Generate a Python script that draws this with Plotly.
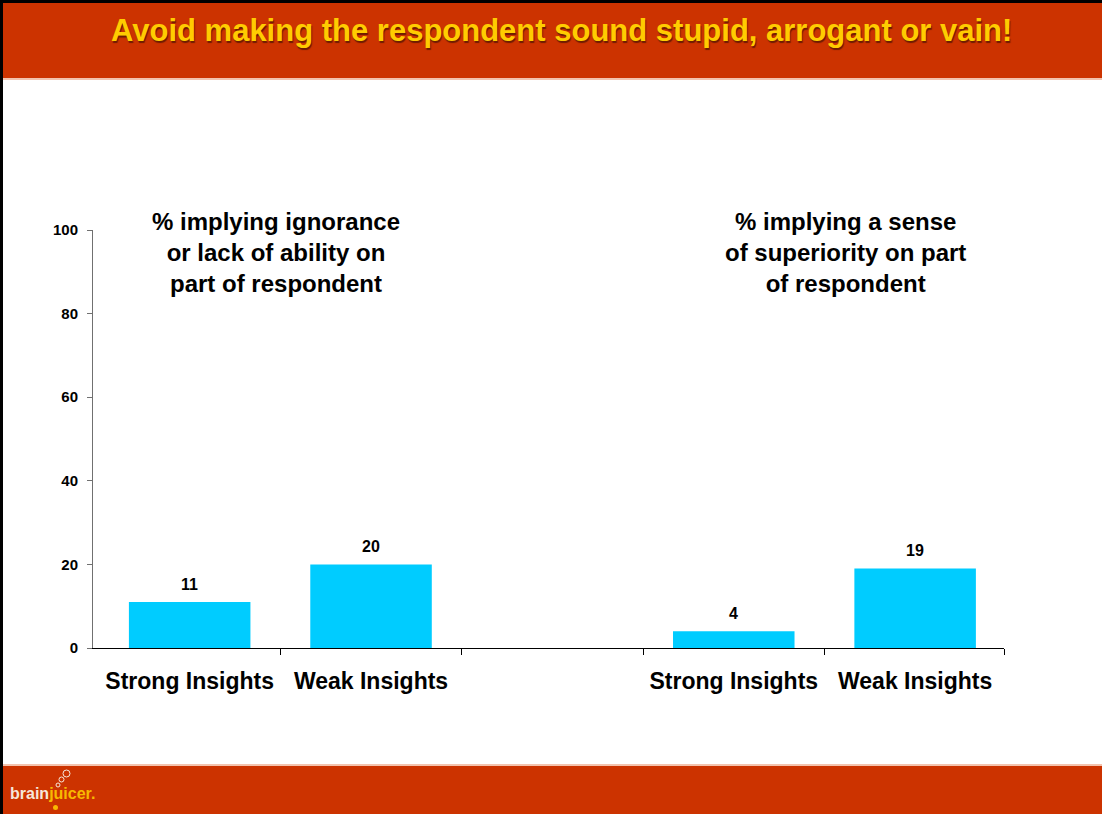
import plotly.graph_objects as go

# ---------------- data ----------------
title_text = "Avoid making the respondent sound stupid, arrogant or vain!"
bar_labels = ["Strong Insights", "Weak Insights"]
panel_titles = [
    "% implying ignorance<br>or lack of ability on<br>part of respondent",
    "% implying a sense<br>of superiority on part<br>of respondent",
]
values_ignorance = [11, 20]
values_superiority = [4, 19]
x_ignorance = [0, 1]
x_superiority = [3, 4]
y_ticks = [0, 20, 40, 60, 80, 100]

# ---------------- layout helpers ----------------
W, H = 1102, 814
def px(x):
    return x / W
def py(y):
    return 1 - y / H

BAR = "#00CCFF"
RED = "#CC3300"
FONT = "Liberation Sans, Arial, sans-serif"

x_vals = x_ignorance + x_superiority
y_vals = values_ignorance + values_superiority
x_text = bar_labels + bar_labels

fig = go.Figure()
fig.add_trace(go.Bar(
    x=x_vals, y=y_vals, width=0.67,
    marker=dict(color=BAR, line=dict(width=0)),
    hoverinfo="skip", showlegend=False,
))

x_range = [-0.533, 4.49]

# value labels
for xv, yv in zip(x_vals, y_vals):
    fig.add_annotation(x=xv, y=yv, xref="x", yref="y", text=f"<b>{yv}</b>",
                       showarrow=False, yanchor="middle", yshift=18,
                       font=dict(family=FONT, size=16, color="black"))

# panel titles
for xc, t in zip([px(276), px(845)], panel_titles):
    fig.add_annotation(x=xc, y=py(252), xref="paper", yref="paper", text=f"<b>{t}</b>",
                       showarrow=False, xanchor="center", yanchor="middle", align="center",
                       font=dict(family=FONT, size=24, color="black"))

# title
fig.add_annotation(x=px(561), y=py(30), xref="paper", yref="paper", text=f"<b>{title_text}</b>",
                   showarrow=False, xanchor="center", yanchor="middle",
                   font=dict(family=FONT, size=31, color="#FFCC00", shadow="1px 2px 1px #6e1c00"))

# logo
fig.add_annotation(x=px(8), y=py(793), xref="paper", yref="paper",
                   text="<b>brain<span style='color:#F8B800'>juicer.</span></b>",
                   showarrow=False, xanchor="left", yanchor="middle",
                   font=dict(family=FONT, size=16, color="#F6E7DA"))

shapes = [
    # top red band
    dict(type="rect", xref="paper", yref="paper", x0=0, x1=1, y0=py(78), y1=1,
         fillcolor=RED, line=dict(width=0), layer="below"),
    dict(type="line", xref="paper", yref="paper", x0=0, x1=1, y0=py(79), y1=py(79),
         line=dict(color="#F3C3AE", width=2), layer="below"),
    # bottom red band
    dict(type="rect", xref="paper", yref="paper", x0=0, x1=1, y0=0, y1=py(766),
         fillcolor=RED, line=dict(width=0), layer="below"),
    dict(type="line", xref="paper", yref="paper", x0=0, x1=1, y0=py(765), y1=py(765),
         line=dict(color="#F3C3AE", width=2), layer="below"),
    # black frame (left and top)
    dict(type="rect", xref="paper", yref="paper", x0=0, x1=px(3), y0=0, y1=1,
         fillcolor="black", line=dict(width=0)),
    dict(type="rect", xref="paper", yref="paper", x0=0, x1=1, y0=py(3), y1=1,
         fillcolor="black", line=dict(width=0)),
    # logo bubbles and drop
    dict(type="circle", xref="paper", yref="paper", x0=px(56), x1=px(60), y0=py(787), y1=py(783),
         line=dict(color="#F6E7DA", width=1)),
    dict(type="circle", xref="paper", yref="paper", x0=px(59), x1=px(64), y0=py(782), y1=py(777),
         line=dict(color="#F6E7DA", width=1)),
    dict(type="circle", xref="paper", yref="paper", x0=px(63), x1=px(70), y0=py(777), y1=py(770),
         line=dict(color="#F6E7DA", width=1)),
    dict(type="circle", xref="paper", yref="paper", x0=px(53), x1=px(58), y0=py(810), y1=py(805),
         fillcolor="#F8B800", line=dict(width=0)),
]

fig.update_layout(
    width=W, height=H,
    margin=dict(l=0, r=0, t=0, b=0),
    paper_bgcolor="white", plot_bgcolor="white",
    bargap=0.33,
    shapes=shapes,
    xaxis=dict(
        domain=[px(93), px(1004)], range=x_range,
        tickmode="array", tickvals=x_vals, ticktext=x_text,
        ticks="", showgrid=False, zeroline=False,
        showline=True, linecolor="black", linewidth=1,
        tickfont=dict(family=FONT, size=23, color="black", weight="bold"),
        ticklabelstandoff=12,
        automargin=False, fixedrange=True,
    ),
    xaxis2=dict(
        domain=[px(93), px(1004)], range=x_range, overlaying="x", anchor="y",
        side="bottom", tickmode="array", tickvals=[0.5, 1.5, 2.5, 3.5, 4.49],
        ticks="outside", ticklen=6, tickcolor="black", tickwidth=1,
        showticklabels=False, showgrid=False, zeroline=False, showline=False,
        automargin=False,
    ),
    yaxis=dict(
        domain=[py(648), py(230)], range=[0, 100],
        tickmode="array", tickvals=y_ticks,
        ticks="outside", ticklen=5, tickcolor="#707070",
        showline=True, linecolor="#707070", linewidth=1,
        showgrid=False, zeroline=False,
        tickfont=dict(family=FONT, size=15, color="black", weight="bold"),
        ticklabelstandoff=6,
        automargin=False, fixedrange=True,
    ),
)
# invisible trace on xaxis2 so that its ticks are drawn
fig.add_trace(go.Scatter(x=[0.5], y=[0], xaxis="x2", yaxis="y", mode="markers",
                         marker=dict(opacity=0), hoverinfo="skip", showlegend=False))

fig.write_html("out.html")
